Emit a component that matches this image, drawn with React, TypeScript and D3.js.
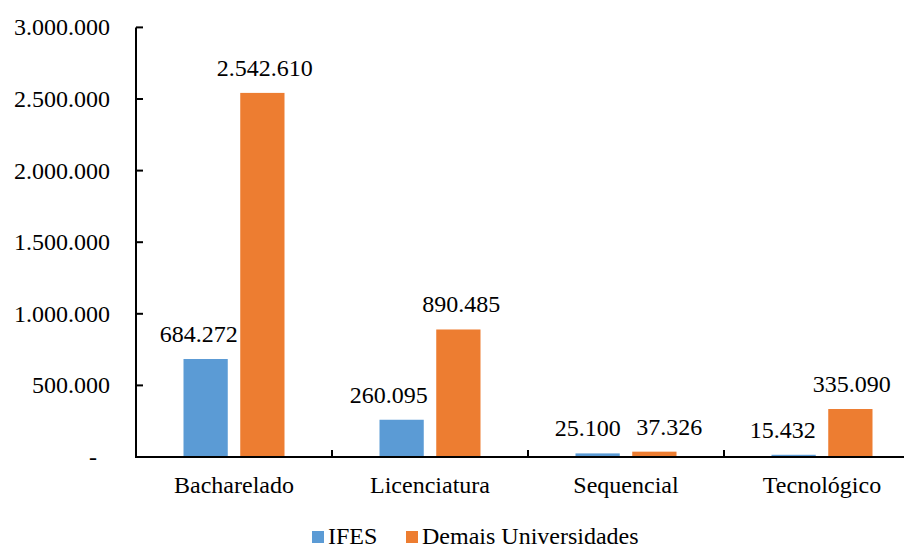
import React from "react";
import * as d3 from "d3";

const categories = ["Bacharelado", "Licenciatura", "Sequencial", "Tecnológico"];
const seriesNames = ["IFES", "Demais Universidades"];
const ifesValues = [684272, 260095, 25100, 15432];
const demaisValues = [2542610, 890485, 37326, 335090];
const yTicks = [0, 500000, 1000000, 1500000, 2000000, 2500000, 3000000];

// horizontal nudges of the value labels so neighbours do not collide
const ifesLabelShift = [-7, -13, -10, -11];
const demaisLabelShift = [2.5, 3, 15, 1.5];

const colors = ["#5b9bd5", "#ed7d31"];
const FONT = "Liberation Serif";

const ptBR = d3.formatLocale({
  decimal: ",",
  thousands: ".",
  grouping: [3],
  currency: ["R$", ""],
});
const fmt = ptBR.format(",d");

function Label(props: {
  x: number;
  y: number;
  anchor?: string;
  central?: boolean;
  children: React.ReactNode;
}) {
  return (
    <text
      x={props.x}
      y={props.y}
      fontSize={24}
      fill="#000"
      textAnchor={props.anchor || "start"}
      dominantBaseline={props.central ? "central" : undefined}
      style={{ fontFamily: FONT }}
    >
      {props.children}
    </text>
  );
}

export default function App() {
  const width = 912;
  const height = 547;
  const left = 136;
  const right = 920;
  const baseline = 457;
  const top = 27.4;

  const x = d3.scaleBand<string>().domain(categories).range([left, right]);
  const xSeries = d3.scaleBand<string>().domain(seriesNames).range([0, 101]).paddingInner(0.22);
  const y = d3.scaleLinear().domain([0, 3000000]).range([baseline, top]);

  const series = [ifesValues, demaisValues];
  const shifts = [ifesLabelShift, demaisLabelShift];

  return (
    <svg width={width} height={height} style={{ display: "block", marginLeft: -8, marginTop: -8 }}>
      <rect width={width} height={height} fill="#fff" />
      {/* value axis */}
      <line x1={left} x2={left} y1={top} y2={baseline} stroke="#000" strokeWidth={2} />
      {yTicks.map((t) => (
        <g key={t}>
          <line x1={left} x2={left + 7} y1={y(t)} y2={y(t)} stroke="#000" strokeWidth={2} />
          <Label x={t === 0 ? 93 : 110} y={y(t)} anchor={t === 0 ? "middle" : "end"} central>
            {t === 0 ? "-" : fmt(t)}
          </Label>
        </g>
      ))}

      {/* bars with value labels */}
      {categories.map((c, i) => {
        const gx = (x(c) as number) + x.bandwidth() / 2 - 50.5;
        return (
          <g key={c}>
            {series.map((vals, s) => {
              const bx = gx + (xSeries(seriesNames[s]) as number);
              const bw = xSeries.bandwidth();
              return (
                <g key={s}>
                  <rect
                    x={bx}
                    y={y(vals[i])}
                    width={bw}
                    height={baseline - y(vals[i])}
                    fill={colors[s]}
                  />
                  <Label x={bx + bw / 2 + shifts[s][i]} y={y(vals[i]) - 17} anchor="middle">
                    {fmt(vals[i])}
                  </Label>
                </g>
              );
            })}
          </g>
        );
      })}

      {/* category axis */}
      <line x1={left - 1} x2={right} y1={baseline} y2={baseline} stroke="#000" strokeWidth={2} />
      {categories.slice(1).map((c) => (
        <line
          key={c}
          x1={x(c) as number}
          x2={x(c) as number}
          y1={baseline}
          y2={baseline - 7}
          stroke="#000"
          strokeWidth={2}
        />
      ))}
      {categories.map((c) => (
        <Label key={c} x={(x(c) as number) + x.bandwidth() / 2} y={493} anchor="middle">
          {c}
        </Label>
      ))}

      {/* legend */}
      <rect x={312} y={531} width={12} height={12} fill={colors[0]} />
      <Label x={328} y={543.5}>{seriesNames[0]}</Label>
      <rect x={406} y={531} width={12} height={12} fill={colors[1]} />
      <Label x={422} y={543.5}>{seriesNames[1]}</Label>
    </svg>
  );
}
